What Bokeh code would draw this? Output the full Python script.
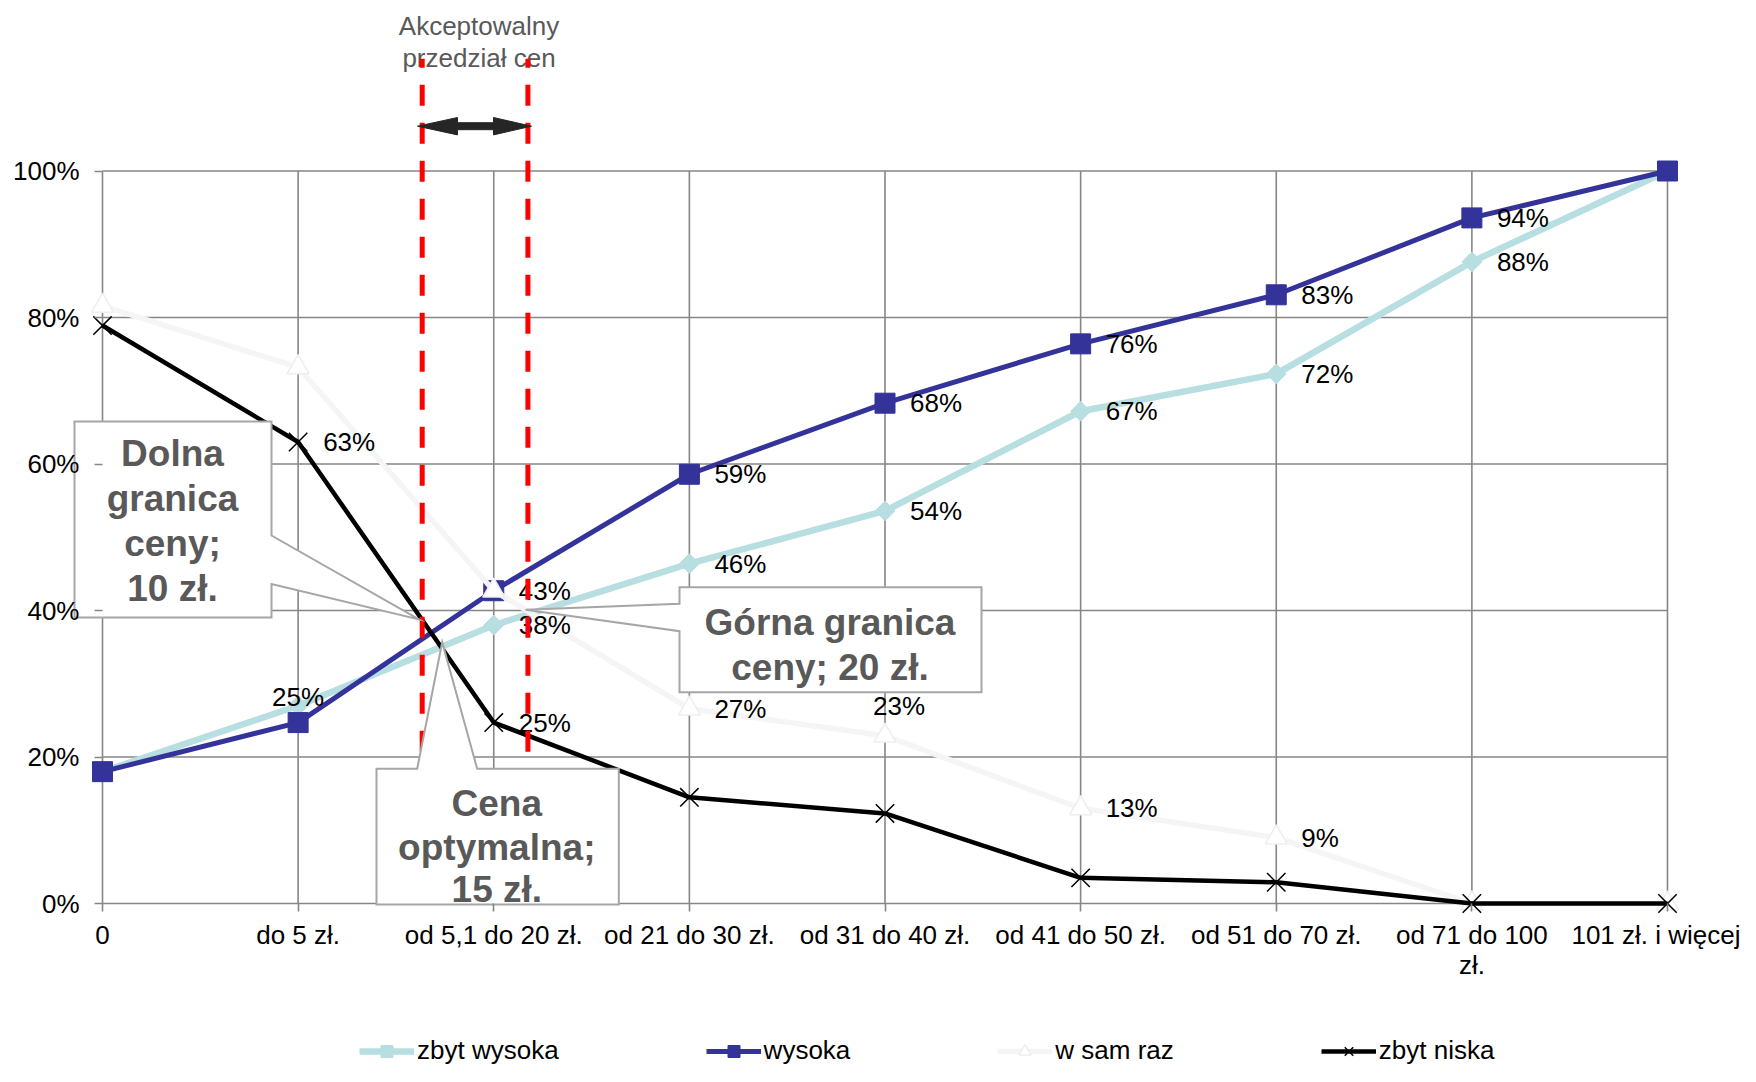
import numpy as np
from bokeh.plotting import figure
from bokeh.models import (Range1d, FixedTicker, NumeralTickFormatter, Legend,
                          LegendItem, ColumnDataSource)
from bokeh.core.properties import value
from bokeh.embed import file_html
from bokeh.resources import INLINE

# ---------------- data ----------------
categories = ["0", "do 5 zł.", "od 5,1 do 20 zł.", "od 21 do 30 zł.", "od 31 do 40 zł.",
              "od 41 do 50 zł.", "od 51 do 70 zł.", "od 71 do 100\nzł.", "101 zł. i więcej"]
zbyt_wysoka = [0.18, 0.27, 0.38, 0.464, 0.536, 0.672, 0.723, 0.876, 1.00]
wysoka = [0.18, 0.247, 0.427, 0.586, 0.683, 0.764, 0.831, 0.936, 1.00]
w_sam_raz = [0.816, 0.732, 0.427, 0.266, 0.229, 0.13, 0.09, 0.0, 0.0]
zbyt_niska = [0.789, 0.63, 0.247, 0.145, 0.123, 0.035, 0.029, 0.0, 0.0]
y_ticks = [0, 0.2, 0.4, 0.6, 0.8, 1.0]

# data-label placement per point: "r" right, "a" above, "ar" above-right, "" none
labels_zbyt_wysoka = ["", "", "r", "r", "r", "r", "r", "r", ""]
labels_wysoka = ["", "a", "r", "r", "r", "r", "r", "r", ""]
labels_w_sam_raz = ["", "", "", "r", "ar", "r", "r", "", ""]
labels_zbyt_niska = ["", "r", "r", "", "", "", "", "", ""]

# ---------------- layout ----------------
W, H = 1740, 1066
CAT_LEFT, CAT_RIGHT = 102, 1667   # pixel columns of first / last category
ZERO_Y = 903                      # pixel row of the 0% line
PY = 732.5                        # pixels per 100%
NCAT = len(categories) - 1
PX = (CAT_RIGHT - CAT_LEFT) / NCAT


def dx(px):
    return (px - CAT_LEFT) / PX


def dy(py):
    return (ZERO_Y - py) / PY


FONT = "Liberation Sans"
FS = "26px"
GRID = "#868686"
NOTE = "#595959"

p = figure(width=W, height=H, output_backend="svg", toolbar_location=None,
           x_range=Range1d(dx(0), dx(W)), y_range=Range1d(dy(H), dy(0)),
           min_border_left=0, min_border_right=0, min_border_top=0,
           min_border_bottom=0, outline_line_color=None,
           background_fill_color="white", border_fill_color="white")
p.xgrid.visible = False
p.ygrid.visible = False

# axes (drawn at the data origin)
ya = p.yaxis[0]
ya.fixed_location = 0
ya.ticker = FixedTicker(ticks=y_ticks)
ya.formatter = NumeralTickFormatter(format="0%")
ya.axis_line_color = None
ya.major_tick_line_color = GRID
ya.major_tick_line_width = 1.6
ya.major_tick_out = 8
ya.major_tick_in = 0
ya.minor_tick_line_color = None
ya.major_label_standoff = 15
ya.major_label_text_font = FONT
ya.major_label_text_font_size = FS
ya.major_label_text_color = "black"

xa = p.xaxis[0]
xs = list(range(len(categories)))
xa.fixed_location = 0
xa.ticker = FixedTicker(ticks=xs)
xa.major_label_overrides = {i: c for i, c in enumerate(categories)}
xa.axis_line_color = None
xa.major_tick_line_color = GRID
xa.major_tick_line_width = 1.6
xa.major_tick_out = 8
xa.major_tick_in = 0
xa.minor_tick_line_color = None
xa.major_label_standoff = 8
xa.major_label_text_font = FONT
xa.major_label_text_font_size = FS
xa.major_label_text_color = "black"
xa.major_label_text_line_height = 1.0

# grid lines (limited to the plot area 0..100%)
p.segment(x0=[0] * len(y_ticks), y0=y_ticks, x1=[NCAT] * len(y_ticks), y1=y_ticks,
          line_color=GRID, line_width=1.6)
p.segment(x0=xs, y0=[0] * len(xs), x1=xs, y1=[y_ticks[-1]] * len(xs),
          line_color=GRID, line_width=1.6)

# ---------------- series ----------------
series = [
    ("zbyt wysoka", zbyt_wysoka, labels_zbyt_wysoka,
     dict(color="#B7DEE0", lw=6.5, marker="square", size=14, angle=np.pi / 4,
          fill="#B7DEE0", mline="#B7DEE0", mlw=1)),
    ("wysoka", wysoka, labels_wysoka,
     dict(color="#333399", lw=5, marker="square", size=20, angle=0,
          fill="#333399", mline="#333399", mlw=1)),
    ("w sam raz", w_sam_raz, labels_w_sam_raz,
     dict(color="#F5F5F5", lw=5.5, marker="triangle", size=22, angle=0,
          fill="white", mline="#EEEEEE", mlw=1.5)),
    ("zbyt niska", zbyt_niska, labels_zbyt_niska,
     dict(color="black", lw=4.5, marker="x", size=26, angle=0,
          fill="black", mline="black", mlw=1.5)),
]

OFFS = {"r": (25, 0, "left"), "a": (0, -26, "center"), "ar": (14, -30, "center")}
items = []
lab_r = dict(x=[], y=[], t=[], xo=[], yo=[])
lab_c = dict(x=[], y=[], t=[], xo=[], yo=[])
for name, vals, labs, st in series:
    lr = p.line(xs, vals, line_color=st["color"], line_width=st["lw"],
                line_join="round")
    sr = p.scatter(xs, vals, marker=st["marker"], size=st["size"], angle=st["angle"],
                   fill_color=st["fill"], line_color=st["mline"],
                   line_width=st["mlw"])
    items.append(LegendItem(label=name, renderers=[lr, sr]))
    for i, (v, code) in enumerate(zip(vals, labs)):
        if not code:
            continue
        xo, yo, al = OFFS[code]
        d = lab_r if al == "left" else lab_c
        d["x"].append(i)
        d["y"].append(v)
        d["t"].append(f"{round(v * 100)}%")
        d["xo"].append(xo)
        d["yo"].append(yo)

for d, al in ((lab_r, "left"), (lab_c, "center")):
    p.text(x="x", y="y", text="t", x_offset="xo", y_offset="yo",
           source=ColumnDataSource(d), text_font=value(FONT),
           text_font_size=FS, text_color="black", text_align=al,
           text_baseline="middle")

# ---------------- annotations: acceptable price range ----------------
p.text(x=[dx(478.5), dx(478.5)], y=[dy(25), dy(57)],
       text=["Akceptowalny", "przedział cen"], text_font=value(FONT),
       text_font_size=FS, text_color=NOTE, text_align="center",
       text_baseline="middle")

RED_X = [421.7, 527.4]
p.segment(x0=[dx(x) for x in RED_X], y0=[dy(58.3)] * 2,
          x1=[dx(x) for x in RED_X], y1=[dy(770)] * 2,
          line_color="#FF0000", line_width=5, line_dash="21 17",
          line_dash_offset=12)

ARROW = [(417, 125.7), (457, 117), (457, 122.2), (493, 122.2), (493, 117),
         (531, 125.7), (493, 134.4), (493, 129.2), (457, 129.2), (457, 134.4)]
p.patch([dx(a) for a, b in ARROW], [dy(b) for a, b in ARROW],
        fill_color="#262626", line_color="#262626", line_width=1)

# ---------------- callouts ----------------
CALLOUTS = [
    ([(74, 421), (271, 421), (271, 535), (418.5, 619), (271, 583.5), (271, 617),
      (74, 617)],
     [("Dolna", 172, 453.3), ("granica", 172, 498.3), ("ceny;", 172, 543.3),
      ("10 zł.", 172, 588.3)]),
    ([(376, 768.3), (416.7, 768.3), (441.7, 641.7), (476.7, 768.3), (618.3, 768.3),
      (618.3, 904), (376, 904)],
     [("Cena", 496.3, 803.3), ("optymalna;", 496.3, 847.3), ("15 zł.", 496.3, 889)]),
    ([(679, 586.7), (981, 586.7), (981, 691.7), (679, 691.7), (679, 630.7),
      (525, 609.3), (679, 603.3)],
     [("Górna granica", 829.5, 621.7), ("ceny; 20 zł.", 829.5, 666.7)]),
]
for poly, lines in CALLOUTS:
    p.patch([dx(a) for a, b in poly], [dy(b) for a, b in poly],
            fill_color="white", line_color="#A6A6A6", line_width=2,
            line_join="miter")
    p.text(x=[dx(a) for _, a, _ in lines], y=[dy(b) for _, _, b in lines],
           text=[t for t, _, _ in lines], text_font=value(FONT),
           text_font_style="bold", text_font_size="37px", text_color=NOTE,
           text_align="center", text_baseline="middle")

# ---------------- legend ----------------
legend = Legend(items=items, location=(359, 0), orientation="horizontal",
                spacing=147, glyph_width=55, glyph_height=30, label_standoff=3,
                label_text_font=FONT, label_text_font_size=FS,
                label_text_color="black", padding=0, margin=0,
                border_line_color=None, background_fill_alpha=0)
p.add_layout(legend)

open("out.html", "w").write(file_html(p, INLINE))
